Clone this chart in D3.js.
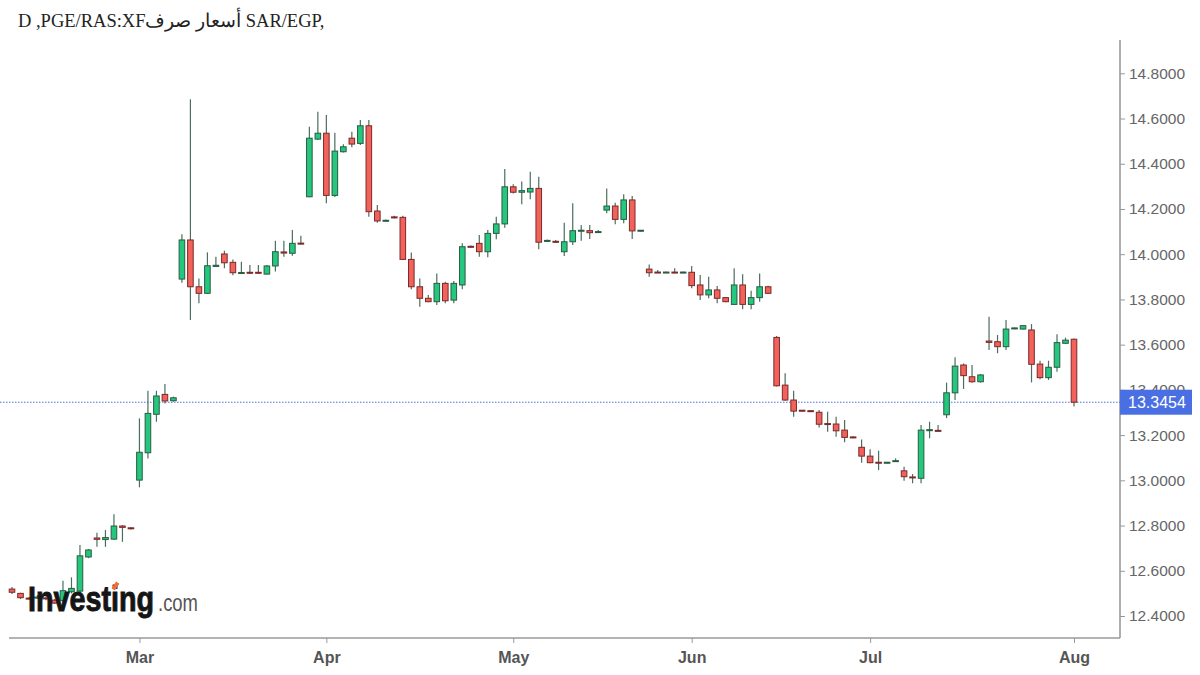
<!DOCTYPE html>
<html>
<head>
<meta charset="utf-8">
<script src="https://cdn.jsdelivr.net/npm/d3@7"></script>
<style>
  body { margin: 0; background: #fff; }
  svg { display: block; }
</style>
</head>
<body>
<script>
// chart text
const title = 'D ,PGE/RAS:XF' + 'أسعار صرف' + ' SAR/EGP,'
const lastPrice = 13.3454

// month labels and the candle index where each month starts
const monthLabels = ['Mar', 'Apr', 'May', 'Jun', 'Jul', 'Aug']
const monthIndex = [15, 37, 59, 80, 101, 125]

// price axis ticks
const priceTicks = [12.4, 12.6, 12.8, 13.0, 13.2, 13.4, 13.6, 13.8, 14.0, 14.2, 14.4, 14.6, 14.8]

// daily OHLC
const open = [
  12.519, 12.500, 12.479, 12.479, 12.480, 12.470, 12.468, 12.507, 12.510, 12.661,
  12.745, 12.738, 12.740, 12.798, 12.790, 13.001, 13.122, 13.292, 13.380, 13.352,
  13.890, 14.063, 13.856, 13.827, 13.946, 14.001, 13.964, 13.916, 13.920, 13.920,
  13.912, 13.948, 14.010, 14.004, 14.049, 14.254, 14.509, 14.535, 14.260, 14.453,
  14.513, 14.490, 14.568, 14.191, 14.146, 14.165, 14.163, 13.977, 13.856, 13.805,
  13.790, 13.871, 13.797, 13.864, 14.035, 14.048, 14.011, 14.092, 14.134, 14.298,
  14.274, 14.275, 14.291, 14.058, 14.057, 14.011, 14.055, 14.102, 14.104, 14.097,
  14.195, 14.213, 14.154, 14.240, 14.103, 13.934, 13.921, 13.918, 13.921, 13.918,
  13.920, 13.864, 13.820, 13.842, 13.808, 13.778, 13.864, 13.778, 13.808, 13.856,
  13.632, 13.421, 13.355, 13.310, 13.308, 13.301, 13.251, 13.249, 13.222, 13.192,
  13.146, 13.107, 13.080, 13.077, 13.083, 13.042, 13.015, 13.009, 13.220, 13.221,
  13.290, 13.387, 13.510, 13.458, 13.436, 13.616, 13.613, 13.591, 13.670, 13.669,
  13.665, 13.514, 13.454, 13.500, 13.606, 13.624
]
const high = [
  12.528, 12.503, 12.484, 12.493, 12.486, 12.475, 12.556, 12.571, 12.714, 12.696,
  12.768, 12.780, 12.850, 12.802, 12.793, 13.274, 13.396, 13.396, 13.426, 13.370,
  14.088, 14.685, 13.893, 14.008, 13.989, 14.015, 13.977, 13.967, 13.952, 13.952,
  13.952, 14.060, 14.060, 14.107, 14.082, 14.564, 14.630, 14.616, 14.537, 14.486,
  14.542, 14.593, 14.593, 14.218, 14.153, 14.170, 14.170, 14.007, 13.893, 13.820,
  13.915, 13.878, 13.881, 14.048, 14.038, 14.085, 14.107, 14.166, 14.377, 14.309,
  14.321, 14.365, 14.343, 14.065, 14.063, 14.139, 14.225, 14.129, 14.129, 14.107,
  14.291, 14.228, 14.265, 14.257, 14.107, 13.955, 13.930, 13.924, 13.938, 13.924,
  13.948, 13.908, 13.900, 13.859, 13.811, 13.938, 13.911, 13.838, 13.915, 13.861,
  13.638, 13.473, 13.396, 13.311, 13.310, 13.311, 13.303, 13.281, 13.267, 13.194,
  13.181, 13.137, 13.131, 13.081, 13.097, 13.060, 13.028, 13.245, 13.259, 13.245,
  13.432, 13.544, 13.517, 13.510, 13.470, 13.723, 13.643, 13.709, 13.676, 13.687,
  13.691, 13.529, 13.529, 13.646, 13.631, 13.627
]
const low = [
  12.497, 12.475, 12.473, 12.475, 12.470, 12.453, 12.460, 12.500, 12.505, 12.656,
  12.706, 12.706, 12.736, 12.728, 12.782, 12.969, 13.097, 13.259, 13.340, 13.348,
  13.874, 13.709, 13.783, 13.824, 13.944, 13.938, 13.907, 13.912, 13.914, 13.914,
  13.910, 13.923, 13.989, 13.993, 14.043, 14.252, 14.505, 14.225, 14.253, 14.450,
  14.473, 14.483, 14.166, 14.139, 14.145, 14.158, 13.974, 13.845, 13.768, 13.787,
  13.775, 13.783, 13.783, 13.845, 14.027, 13.989, 13.986, 14.066, 14.117, 14.268,
  14.221, 14.243, 14.022, 14.056, 14.049, 13.992, 14.041, 14.060, 14.067, 14.096,
  14.181, 14.132, 14.137, 14.067, 14.100, 13.900, 13.917, 13.917, 13.916, 13.916,
  13.849, 13.797, 13.805, 13.783, 13.787, 13.775, 13.756, 13.756, 13.790, 13.824,
  13.415, 13.352, 13.281, 13.304, 13.302, 13.234, 13.215, 13.193, 13.168, 13.186,
  13.078, 13.075, 13.045, 13.075, 13.081, 12.998, 12.987, 12.987, 13.186, 13.216,
  13.275, 13.355, 13.404, 13.432, 13.432, 13.576, 13.562, 13.576, 13.668, 13.667,
  13.433, 13.447, 13.444, 13.480, 13.605, 13.326
]
const close = [
  12.505, 12.481, 12.477, 12.484, 12.478, 12.457, 12.512, 12.522, 12.666, 12.692,
  12.739, 12.747, 12.798, 12.792, 12.786, 13.124, 13.296, 13.373, 13.351, 13.365,
  14.063, 13.856, 13.827, 13.949, 13.951, 13.962, 13.918, 13.919, 13.917, 13.917,
  13.948, 14.011, 14.005, 14.048, 14.046, 14.513, 14.535, 14.260, 14.456, 14.475,
  14.487, 14.568, 14.188, 14.147, 14.150, 14.161, 13.977, 13.856, 13.805, 13.790,
  13.871, 13.794, 13.871, 14.033, 14.031, 14.011, 14.092, 14.134, 14.298, 14.274,
  14.281, 14.291, 14.053, 14.061, 14.053, 14.055, 14.104, 14.106, 14.095, 14.100,
  14.213, 14.154, 14.240, 14.103, 14.106, 13.918, 13.918, 13.921, 13.918, 13.921,
  13.861, 13.820, 13.842, 13.805, 13.790, 13.864, 13.778, 13.808, 13.856, 13.827,
  13.418, 13.355, 13.306, 13.306, 13.304, 13.248, 13.248, 13.219, 13.190, 13.188,
  13.107, 13.078, 13.077, 13.080, 13.087, 13.016, 13.011, 13.222, 13.224, 13.218,
  13.387, 13.505, 13.463, 13.436, 13.466, 13.610, 13.591, 13.669, 13.674, 13.684,
  13.513, 13.454, 13.500, 13.609, 13.620, 13.3454
]

const W = 1200
const H = 675
const plotRight = 1120
const plotTop = 40
const plotBottom = 638

const candles = open.map((o, i) => ({ i, o, h: high[i], l: low[i], c: close[i] }))

const svg = d3.select('body').append('svg')
  .attr('width', W)
  .attr('height', H)
  .style('background', '#fff')

const x = d3.scaleLinear().domain([0, 125]).range([12, 1074])
const y = d3.scaleLinear().domain([12.4, 14.8]).range([616, 73.3])

// title
svg.append('text')
  .attr('x', 18)
  .attr('y', 27)
  .attr('font-family', '"Liberation Serif", "DejaVu Serif", serif')
  .attr('font-size', 18.5)
  .attr('fill', '#222')
  .text(title)

// bottom axis
const xAxis = svg.append('g')
  .attr('transform', `translate(0,${plotBottom})`)
  .call(d3.axisBottom(x)
    .tickValues(monthIndex)
    .tickFormat((d, i) => monthLabels[i])
    .tickSize(5)
    .tickPadding(9))
xAxis.select('.domain').remove()
xAxis.selectAll('line').attr('stroke', '#999')
xAxis.selectAll('text')
  .attr('font-family', '"Liberation Sans Narrow", "Arial Narrow", "Liberation Sans", sans-serif')
  .attr('font-weight', 'bold')
  .attr('font-size', 16)
  .attr('fill', '#555')

// right axis
const yAxis = svg.append('g')
  .attr('transform', `translate(${plotRight},0)`)
  .call(d3.axisRight(y)
    .tickValues(priceTicks)
    .tickFormat(d3.format('.4f'))
    .tickSize(5)
    .tickPadding(4))
yAxis.select('.domain').remove()
yAxis.selectAll('line').attr('stroke', '#999')
yAxis.selectAll('text')
  .attr('font-family', '"Liberation Sans", Arial, sans-serif')
  .attr('font-size', 15.5)
  .attr('fill', '#666')

// frame lines
svg.append('line')
  .attr('x1', 9).attr('x2', plotRight)
  .attr('y1', plotBottom).attr('y2', plotBottom)
  .attr('stroke', '#9a9a9a').attr('stroke-width', 1.6)
svg.append('line')
  .attr('x1', plotRight).attr('x2', plotRight)
  .attr('y1', plotTop).attr('y2', plotBottom)
  .attr('stroke', '#9a9a9a').attr('stroke-width', 1.6)

// last price line
svg.append('line')
  .attr('x1', 0).attr('x2', plotRight)
  .attr('y1', y(lastPrice)).attr('y2', y(lastPrice))
  .attr('stroke', '#4b6fe0')
  .attr('stroke-width', 1)
  .attr('stroke-dasharray', '1.5,1.5')

// candles
const g = svg.append('g')
g.selectAll('line.wick')
  .data(candles)
  .enter()
  .append('line')
  .attr('class', 'wick')
  .attr('x1', d => x(d.i)).attr('x2', d => x(d.i))
  .attr('y1', d => y(d.h)).attr('y2', d => y(d.l))
  .attr('stroke', '#4b6e5d')
  .attr('stroke-width', 1.2)

const bodyW = 5.6
g.selectAll('rect.body')
  .data(candles)
  .enter()
  .append('rect')
  .attr('class', 'body')
  .attr('x', d => x(d.i) - bodyW / 2)
  .attr('y', d => y(Math.max(d.o, d.c)))
  .attr('width', bodyW)
  .attr('height', d => Math.max(1, Math.abs(y(d.o) - y(d.c))))
  .attr('fill', d => d.c >= d.o ? '#24c77d' : '#f2625a')
  .attr('stroke', d => d.c >= d.o ? '#2a5c43' : '#7a2a2a')
  .attr('stroke-width', 1)

// last price tag
const tag = svg.append('g')
  .attr('transform', `translate(${plotRight},${y(lastPrice)})`)
tag.append('rect')
  .attr('x', 0).attr('y', -12.5)
  .attr('width', 72).attr('height', 25)
  .attr('fill', '#4a6fe3')
tag.append('text')
  .attr('x', 8)
  .attr('dy', '0.36em')
  .attr('font-family', '"Liberation Sans", Arial, sans-serif')
  .attr('font-size', 16)
  .attr('fill', '#fff')
  .text(d3.format('.4f')(lastPrice))

// watermark logo
const logo = svg.append('g')
logo.append('text')
  .attr('x', 28).attr('y', 611)
  .attr('font-family', '"Liberation Sans", Arial, sans-serif')
  .attr('font-weight', 'bold')
  .attr('font-size', 35)
  .attr('textLength', 126)
  .attr('lengthAdjust', 'spacingAndGlyphs')
  .attr('fill', '#151515')
  .attr('stroke', '#151515')
  .attr('stroke-width', 0.9)
  .text('Investing')
logo.append('text')
  .attr('x', 158).attr('y', 611)
  .attr('font-family', '"Liberation Sans", Arial, sans-serif')
  .attr('font-size', 24)
  .attr('textLength', 40)
  .attr('lengthAdjust', 'spacingAndGlyphs')
  .attr('fill', '#555')
  .text('.com')
logo.append('rect')
  .attr('x', -2).attr('y', -4)
  .attr('width', 4).attr('height', 8)
  .attr('transform', 'translate(115.5,586) rotate(35)')
  .attr('fill', '#f26b3a')
</script>
</body>
</html>
